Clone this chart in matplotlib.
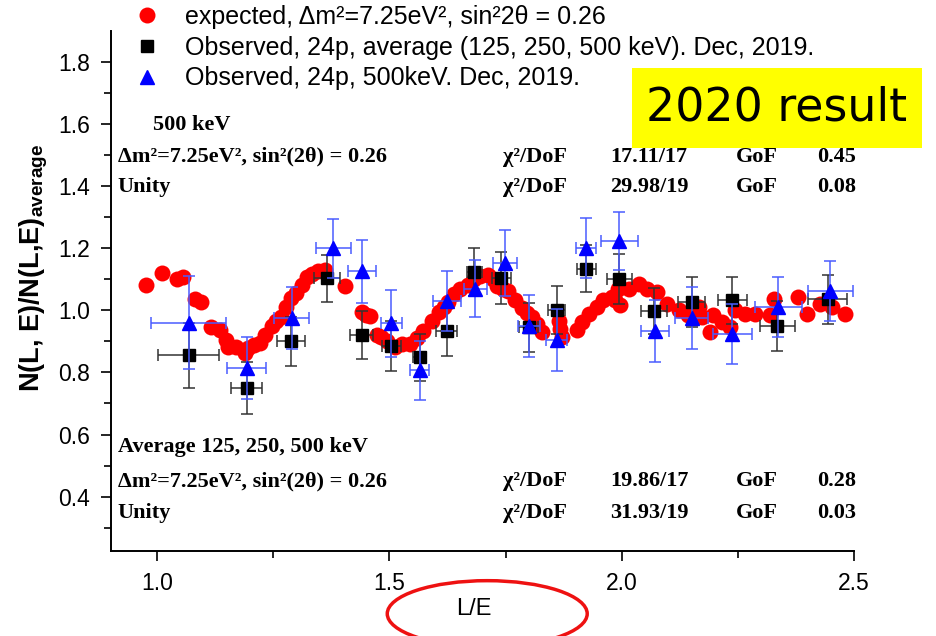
import numpy as np
import matplotlib.pyplot as plt
from matplotlib.lines import Line2D
from matplotlib.patches import Ellipse, Rectangle

plt.rcParams['font.family'] = ['Liberation Sans', 'DejaVu Sans']
plt.rcParams['mathtext.fontset'] = 'custom'
plt.rcParams['mathtext.rm'] = 'Liberation Sans'
plt.rcParams['mathtext.bf'] = 'Liberation Sans:bold'
plt.rcParams['mathtext.it'] = 'Liberation Sans:italic'

# expected curve (L/E, ratio)
exp_le = [0.975, 1.009, 1.043, 1.056, 1.081, 1.094, 1.116, 1.135, 1.148, 1.153,
          1.170, 1.189, 1.196, 1.207, 1.220, 1.232, 1.246, 1.256, 1.267, 1.276,
          1.287, 1.298, 1.311, 1.322, 1.333, 1.346, 1.361, 1.404, 1.440, 1.449,
          1.458, 1.473, 1.482, 1.495, 1.512, 1.528, 1.544, 1.560, 1.573, 1.591,
          1.606, 1.617, 1.627, 1.638, 1.652, 1.670, 1.683, 1.695, 1.713, 1.722,
          1.731, 1.745, 1.756, 1.771, 1.785, 1.796, 1.807, 1.818, 1.828, 1.866,
          1.868, 1.872, 1.904, 1.914, 1.929, 1.947, 1.961, 1.979, 1.986, 1.993,
          1.997, 2.015, 2.037, 2.055, 2.076, 2.098, 2.123, 2.144, 2.166, 2.173,
          2.191, 2.198, 2.216, 2.234, 2.245, 2.266, 2.288, 2.320, 2.328, 2.381,
          2.399, 2.428, 2.453, 2.482]
exp_ratio = [1.083, 1.121, 1.102, 1.108, 1.036, 1.028, 0.947, 0.937, 0.905, 0.882,
             0.883, 0.863, 0.880, 0.888, 0.895, 0.920, 0.950, 0.965, 0.980, 1.012,
             1.040, 1.055, 1.080, 1.106, 1.118, 1.125, 1.131, 1.078, 0.996, 0.984,
             0.982, 0.921, 0.913, 0.900, 0.883, 0.890, 0.893, 0.910, 0.935, 0.967,
             0.995, 1.010, 1.027, 1.053, 1.070, 1.081, 1.100, 1.112, 1.115, 1.100,
             1.078, 1.070, 1.063, 1.032, 1.006, 0.992, 0.978, 0.955, 0.930, 0.965,
             0.940, 0.914, 0.936, 0.962, 0.989, 1.011, 1.032, 1.043, 1.032, 1.070,
             1.016, 1.070, 1.086, 1.070, 1.059, 1.021, 1.000, 0.984, 1.011, 0.978,
             0.930, 0.984, 0.962, 0.946, 1.000, 0.989, 0.989, 0.984, 1.038, 1.043,
             0.989, 1.021, 1.011, 0.989]

# observed average (125, 250, 500 keV)
avg_le = [1.067, 1.192, 1.287, 1.366, 1.440, 1.504, 1.565, 1.623, 1.683, 1.741,
          1.800, 1.860, 1.924, 1.995, 2.070, 2.151, 2.239, 2.336, 2.444]
avg_ratio = [0.855, 0.750, 0.900, 1.103, 0.920, 0.885, 0.849, 0.932, 1.123, 1.104,
             0.945, 1.000, 1.134, 1.100, 0.998, 1.027, 1.032, 0.949, 1.035]
avg_yerr = [0.105, 0.085, 0.080, 0.075, 0.078, 0.080, 0.075, 0.080, 0.077, 0.083,
            0.080, 0.077, 0.075, 0.080, 0.075, 0.080, 0.075, 0.080, 0.080]
avg_xerr = [0.065, 0.033, 0.030, 0.028, 0.025, 0.020, 0.014, 0.022, 0.016, 0.020,
            0.021, 0.018, 0.021, 0.027, 0.028, 0.029, 0.032, 0.037, 0.042]

# observed 500 keV
k500_le = [1.067, 1.192, 1.289, 1.379, 1.440, 1.504, 1.565, 1.623, 1.685, 1.749,
           1.800, 1.860, 1.924, 1.995, 2.072, 2.151, 2.239, 2.338, 2.450]
k500_ratio = [0.960, 0.813, 0.974, 1.200, 1.125, 0.959, 0.807, 1.029, 1.070, 1.152,
              0.949, 0.904, 1.200, 1.223, 0.932, 0.974, 0.923, 1.010, 1.062]
k500_yerr = [0.150, 0.100, 0.100, 0.095, 0.100, 0.108, 0.095, 0.096, 0.093, 0.105,
             0.100, 0.100, 0.096, 0.094, 0.100, 0.100, 0.097, 0.097, 0.096]
k500_xerr = [0.080, 0.042, 0.037, 0.037, 0.030, 0.022, 0.020, 0.030, 0.025, 0.026,
             0.024, 0.022, 0.022, 0.040, 0.030, 0.036, 0.041, 0.050, 0.049]

fig = plt.figure(figsize=(9.37, 6.36), dpi=100)
ax = fig.add_axes([0.1185, 0.1336, 0.7925, 0.818])

ax.plot(exp_le, exp_ratio, 'o', color='#ff0000', ms=11.5, mec='none', zorder=2)
ax.errorbar(avg_le, avg_ratio, yerr=avg_yerr, xerr=avg_xerr, fmt='s', color='black',
            ecolor='#333333', elinewidth=1.1, capsize=4, capthick=1.1, ms=8, zorder=3)
ax.errorbar(k500_le, k500_ratio, yerr=k500_yerr, xerr=k500_xerr, fmt='^', color='#0000ff',
            ecolor='#4a5cff', elinewidth=1.1, capsize=4, capthick=1.1, ms=10, zorder=4)

ax.set_xlim(0.9, 2.5)
ax.set_ylim(0.225, 1.9)
ax.set_xticks([1.0, 1.5, 2.0, 2.5])
ax.set_xticks([1.25, 1.75, 2.25], minor=True)
ax.set_yticks([0.4, 0.6, 0.8, 1.0, 1.2, 1.4, 1.6, 1.8])
ax.set_yticks([0.3, 0.5, 0.7, 0.9, 1.1, 1.3, 1.5, 1.7], minor=True)
ax.xaxis.set_major_formatter(plt.FormatStrFormatter('%.1f'))
ax.yaxis.set_major_formatter(plt.FormatStrFormatter('%.1f'))
ax.tick_params(which='major', direction='out', length=7, width=1.2, labelsize=16.5, pad=8)
ax.tick_params(which='minor', direction='out', length=5, width=1.2)
for s in ['top', 'right']:
    ax.spines[s].set_visible(False)
for s in ['left', 'bottom']:
    ax.spines[s].set_linewidth(1.4)

ax.set_ylabel(r'N(L, E)/N(L,E)$_{\mathbf{average}}$', fontsize=19.5, fontweight='bold')
ax.yaxis.set_label_coords(-0.082, 0.545)
ax.set_xlabel('L/E', fontsize=17)
ax.xaxis.set_label_coords(0.488, -0.09)

# statistics text blocks
serif = dict(family='Liberation Serif', fontweight='bold', fontsize=16, va='center',
             transform=ax.transAxes)
ax.text(0.057, 0.819, '500 keV', **serif)
ax.text(0.009, 0.758, 'Δm²=7.25eV², sin²(2θ) = 0.26', **serif)
ax.text(0.009, 0.700, 'Unity', **serif)
ax.text(0.009, 0.200, 'Average 125, 250, 500 keV', **serif)
ax.text(0.009, 0.1346, 'Δm²=7.25eV², sin²(2θ) = 0.26', **serif)
ax.text(0.009, 0.073, 'Unity', **serif)

rows = [(0.758, '17.11/17', '0.45'), (0.700, '29.98/19', '0.08'),
        (0.1346, '19.86/17', '0.28'), (0.073, '31.93/19', '0.03')]
for y, chi, gof in rows:
    ax.text(0.528, y, 'χ²/DoF', **serif)
    ax.text(0.6725, y, chi, **serif)
    ax.text(0.841, y, 'GoF', **serif)
    ax.text(0.9515, y, gof, **serif)

# legend
handles = [Line2D([], [], ls='none', marker='o', color='#ff0000', ms=11.5, mec='none'),
           Line2D([], [], ls='none', marker='s', color='black', ms=8),
           Line2D([], [], ls='none', marker='^', color='#0000ff', ms=10)]
labels = ['expected, Δm²=7.25eV², sin²2θ = 0.26',
          'Observed, 24p, average (125, 250, 500 keV). Dec, 2019.',
          'Observed, 24p, 500keV. Dec, 2019.']
fig.legend(handles, labels, loc='upper left', bbox_to_anchor=(0.133, 1.008), frameon=False,
           fontsize=18, labelspacing=0.27, handletextpad=1.0, handlelength=1.0,
           borderaxespad=0)

# yellow box
fig.patches.append(Rectangle((0.6745, 0.767), 0.3095, 0.126, transform=fig.transFigure,
                             facecolor='#ffff00', edgecolor='none', zorder=5))
fig.text(0.829, 0.830, '2020 result', fontsize=33, family='DejaVu Sans',
         ha='center', va='center', zorder=6)

# red ellipse round the x label
fig.patches.append(Ellipse((0.52, 0.035), 0.2134, 0.104, transform=fig.transFigure,
                           facecolor='none', edgecolor='#ee1111', lw=2.5))

fig.savefig('out.png', dpi=100)
